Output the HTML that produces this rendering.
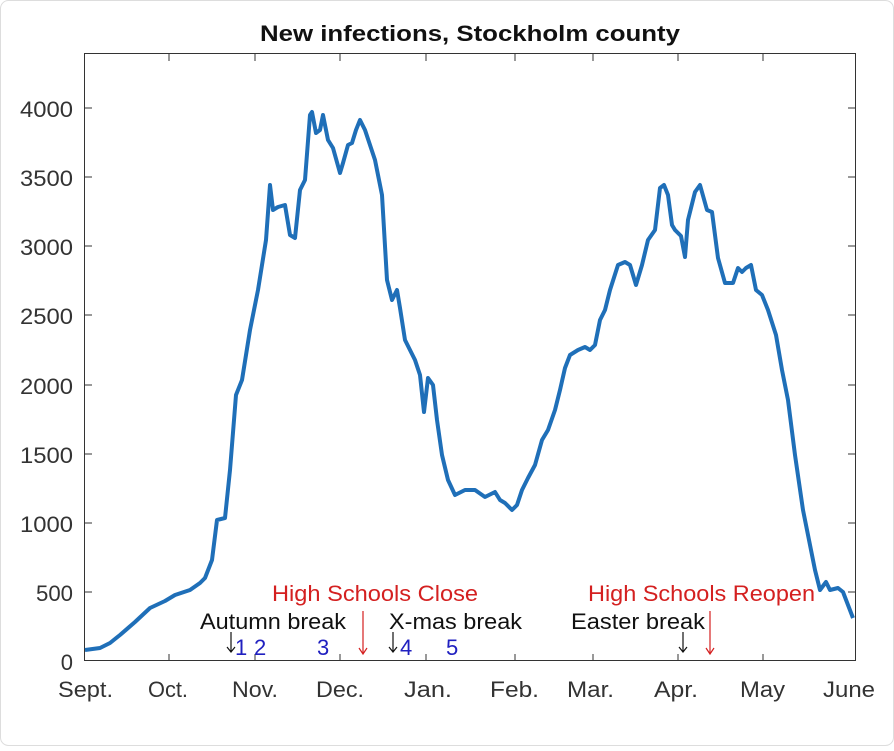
<!DOCTYPE html>
<html><head><style>
body{margin:0;background:#fff;}
svg text{font-family:"Liberation Sans",sans-serif;}
</style></head><body>
<svg width="894" height="746" xmlns="http://www.w3.org/2000/svg">
<rect x="0.5" y="0.5" width="893" height="745" rx="8" fill="#fff" stroke="#ddd"/>
<text x="260" y="41" font-size="22" font-weight="bold" fill="#111" textLength="420" lengthAdjust="spacingAndGlyphs">New infections, Stockholm county</text>
<rect x="84.5" y="53.5" width="771" height="607" fill="none" stroke="#333" stroke-width="1"/>
<g stroke="#333" stroke-width="1">
<line x1="169" y1="661" x2="169" y2="654"/><line x1="255" y1="661" x2="255" y2="654"/><line x1="340" y1="661" x2="340" y2="654"/><line x1="426" y1="661" x2="426" y2="654"/><line x1="515" y1="661" x2="515" y2="654"/><line x1="593" y1="661" x2="593" y2="654"/><line x1="678" y1="661" x2="678" y2="654"/><line x1="763" y1="661" x2="763" y2="654"/>
<line x1="169" y1="54" x2="169" y2="61"/><line x1="255" y1="54" x2="255" y2="61"/><line x1="340" y1="54" x2="340" y2="61"/><line x1="426" y1="54" x2="426" y2="61"/><line x1="515" y1="54" x2="515" y2="61"/><line x1="593" y1="54" x2="593" y2="61"/><line x1="678" y1="54" x2="678" y2="61"/><line x1="763" y1="54" x2="763" y2="61"/>
<line x1="85" y1="592" x2="92" y2="592"/><line x1="85" y1="523" x2="92" y2="523"/><line x1="85" y1="454" x2="92" y2="454"/><line x1="85" y1="385" x2="92" y2="385"/><line x1="85" y1="315" x2="92" y2="315"/><line x1="85" y1="246" x2="92" y2="246"/><line x1="85" y1="177" x2="92" y2="177"/><line x1="85" y1="108" x2="92" y2="108"/>
<line x1="855" y1="592" x2="848" y2="592"/><line x1="855" y1="523" x2="848" y2="523"/><line x1="855" y1="454" x2="848" y2="454"/><line x1="855" y1="385" x2="848" y2="385"/><line x1="855" y1="315" x2="848" y2="315"/><line x1="855" y1="246" x2="848" y2="246"/><line x1="855" y1="177" x2="848" y2="177"/><line x1="855" y1="108" x2="848" y2="108"/>
</g>
<g font-size="22" fill="#333" text-anchor="end">
<text x="73" y="670">0</text><text x="73" y="601" textLength="37" lengthAdjust="spacingAndGlyphs">500</text><text x="73" y="532" textLength="53" lengthAdjust="spacingAndGlyphs">1000</text><text x="73" y="463" textLength="53" lengthAdjust="spacingAndGlyphs">1500</text><text x="73" y="394" textLength="53" lengthAdjust="spacingAndGlyphs">2000</text><text x="73" y="324" textLength="53" lengthAdjust="spacingAndGlyphs">2500</text><text x="73" y="255" textLength="53" lengthAdjust="spacingAndGlyphs">3000</text><text x="73" y="186" textLength="53" lengthAdjust="spacingAndGlyphs">3500</text><text x="73" y="117" textLength="53" lengthAdjust="spacingAndGlyphs">4000</text>
</g>
<g font-size="22" fill="#333">
<text x="58" y="697" textLength="55" lengthAdjust="spacingAndGlyphs">Sept.</text><text x="148" y="697" textLength="40" lengthAdjust="spacingAndGlyphs">Oct.</text><text x="232" y="697" textLength="46" lengthAdjust="spacingAndGlyphs">Nov.</text><text x="316" y="697" textLength="48" lengthAdjust="spacingAndGlyphs">Dec.</text><text x="404" y="697" textLength="48" lengthAdjust="spacingAndGlyphs">Jan.</text><text x="490" y="697" textLength="49" lengthAdjust="spacingAndGlyphs">Feb.</text><text x="567" y="697" textLength="47" lengthAdjust="spacingAndGlyphs">Mar.</text><text x="654" y="697" textLength="44" lengthAdjust="spacingAndGlyphs">Apr.</text><text x="740" y="697" textLength="45" lengthAdjust="spacingAndGlyphs">May</text><text x="823" y="697" textLength="52" lengthAdjust="spacingAndGlyphs">June</text>
</g>
<g font-size="22">
<text x="272" y="601" fill="#d42020" textLength="206" lengthAdjust="spacingAndGlyphs">High Schools Close</text>
<text x="588" y="601" fill="#d42020" textLength="227" lengthAdjust="spacingAndGlyphs">High Schools Reopen</text>
<text x="200" y="629" fill="#111" textLength="146" lengthAdjust="spacingAndGlyphs">Autumn break</text>
<text x="389" y="629" fill="#111" textLength="133" lengthAdjust="spacingAndGlyphs">X-mas break</text>
<text x="571" y="629" fill="#111" textLength="134" lengthAdjust="spacingAndGlyphs">Easter break</text>
<text x="235" y="655" fill="#2020c0">1</text><text x="254" y="655" fill="#2020c0">2</text><text x="317" y="655" fill="#2020c0">3</text><text x="400" y="655" fill="#2020c0">4</text><text x="446" y="655" fill="#2020c0">5</text>
</g>
<g fill="none" stroke-width="1.2">
<path d="M231 632V652M227 647L231 652L235 647" stroke="#111"/>
<path d="M393 632V652M389 647L393 652L397 647" stroke="#111"/>
<path d="M683 632V652M679 647L683 652L687 647" stroke="#111"/>
<path d="M363 611V654M359 648L363 654L367 648" stroke="#d42020"/>
<path d="M710 611V654M706 648L710 654L714 648" stroke="#d42020"/>
</g>
<polyline fill="none" stroke="#1f6fb8" stroke-width="4" stroke-linejoin="round" points="85,650 100,648 110,643 120,635 135,622 150,608 165,601 175,595 190,590 200,583 205,578 212,560 217,520 225,518 230,470 236,395 242,380 250,330 258,290 266,240 270,185 273,210 278,207 285,205 290,235 295,238 300,190 305,180 310,115 312,112 316,133 320,130 323,115 328,140 333,148 340,173 343,163 348,145 352,143 356,130 360,120 365,130 370,145 375,160 382,195 387,280 392,300 397,290 400,308 405,340 410,350 415,360 420,375 424,412 428,378 433,385 437,420 442,455 448,480 455,495 465,490 475,490 485,497 495,492 500,500 505,503 512,510 517,505 522,490 528,478 535,465 542,440 548,430 555,410 560,390 565,368 570,355 578,350 585,347 590,350 595,345 600,320 605,310 610,290 618,265 625,262 630,265 636,285 642,265 648,240 655,230 660,188 664,185 668,195 672,225 675,230 681,236 685,257 688,220 695,192 700,185 707,210 712,212 718,258 725,283 733,283 738,268 742,272 746,268 751,265 756,290 762,295 768,310 776,335 782,370 788,400 795,455 803,510 810,545 815,570 820,590 826,582 830,590 838,588 843,592 848,605 853,618"/>
</svg>
</body></html>
